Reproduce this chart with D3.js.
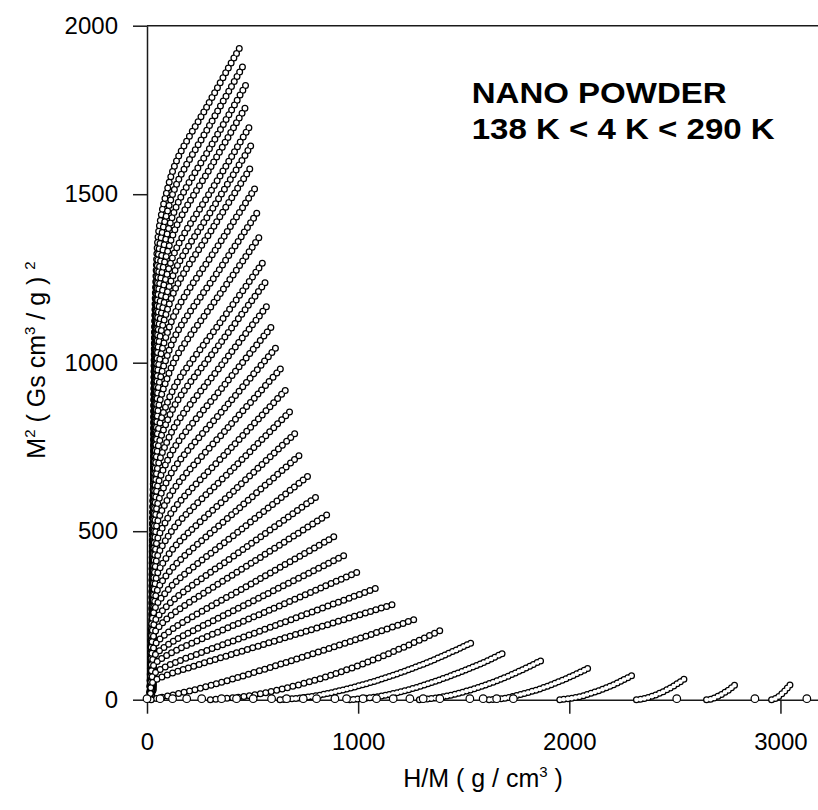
<!DOCTYPE html>
<html>
<head>
<meta charset="utf-8">
<script src="https://cdn.jsdelivr.net/npm/d3@7"></script>
<style>
  html, body { margin: 0; padding: 0; background: #fff; }
  svg { display: block; font-family: "Liberation Sans", Arial, Helvetica, sans-serif; }
</style>
</head>
<body>
<svg id="chart" width="818" height="810"></svg>
<script>
// Axis tick values
const xTicks = [0, 1000, 2000, 3000];
const yTicks = [0, 500, 1000, 1500, 2000];

// Arrott isotherms, one list per temperature, points as [H/M (g/cm3), M^2 ((Gs cm3/g)^2)]
// ordered by increasing applied field (coldest isotherm first)
const isotherms = [
  [[28,44],[31,443],[35,1066],[42,1250],[52,1372],[66,1432],[88,1494],[140,1599],[290,1767],[440,1936]],
  [[28,42],[31,423],[35,1018],[42,1194],[52,1311],[66,1368],[88,1428],[140,1530],[298,1706],[456,1882]],
  [[28,40],[31,404],[35,972],[42,1140],[52,1252],[66,1307],[88,1365],[140,1465],[304,1644],[467,1823]],
  [[28,39],[31,386],[35,931],[42,1092],[52,1200],[66,1253],[88,1309],[140,1406],[306,1585],[472,1764]],
  [[28,37],[31,368],[35,886],[42,1040],[52,1142],[66,1194],[88,1248],[140,1340],[312,1519],[483,1698]],
  [[28,35],[31,351],[35,846],[42,993],[52,1091],[66,1140],[88,1192],[140,1283],[316,1463],[491,1643]],
  [[28,33],[31,335],[35,808],[42,948],[52,1042],[66,1090],[88,1140],[140,1227],[318,1406],[496,1584]],
  [[28,31],[31,315],[35,759],[42,891],[52,980],[66,1025],[88,1073],[140,1156],[326,1337],[511,1517]],
  [[28,29],[31,295],[35,712],[42,836],[52,919],[66,961],[88,1007],[140,1087],[334,1268],[527,1450]],
  [[28,27],[31,276],[35,664],[42,780],[52,858],[66,898],[88,941],[140,1018],[342,1201],[543,1383]],
  [[22,25],[24,251],[28,605],[36,712],[48,785],[62,822],[85,864],[140,939],[347,1120],[554,1302]],
  [[22,23],[24,235],[28,567],[36,667],[48,736],[62,772],[85,811],[140,883],[351,1061],[562,1240]],
  [[22,22],[24,218],[28,525],[36,618],[48,682],[62,715],[85,752],[140,820],[360,999],[579,1177]],
  [[22,20],[24,200],[28,483],[36,569],[48,628],[62,659],[85,694],[140,758],[368,935],[595,1111]],
  [[22,18],[24,183],[28,442],[36,521],[48,575],[62,604],[85,637],[140,697],[377,872],[614,1047]],
  [[22,17],[24,166],[28,401],[36,473],[48,523],[62,549],[85,580],[140,636],[387,810],[634,983]],
  [[22,15],[24,150],[28,361],[36,426],[48,472],[62,496],[85,524],[140,576],[398,747],[655,918]],
  [[22,13],[24,134],[28,323],[36,381],[48,422],[62,444],[85,470],[140,519],[409,687],[678,856]],
  [[22,12],[24,117],[28,284],[36,335],[48,371],[62,391],[85,415],[140,460],[422,626],[704,792]],
  [[22,10],[24,102],[28,247],[36,291],[48,323],[62,341],[85,363],[140,404],[436,568],[732,731]],
  [[14,9],[16,87],[20,210],[28,249],[42,277],[58,294],[82,313],[140,352],[454,509],[767,666]],
  [[14,7],[16,74],[20,180],[28,213],[42,238],[58,252],[82,270],[140,304],[473,454],[806,604]],
  [[14,6],[16,64],[20,155],[28,183],[42,205],[58,217],[82,233],[140,263],[496,406],[851,548]],
  [[14,5],[16,52],[20,126],[28,149],[42,167],[58,178],[82,191],[140,218],[519,353],[898,488]],
  [[14,4],[16,42],[20,102],[28,121],[42,136],[58,145],[82,156],[140,179],[547,307],[953,434]],
  [[14,3],[16,34],[20,83],[28,98],[42,110],[58,118],[82,127],[140,147],[577,265],[1013,383]],
  [[14,2],[16,25],[20,61],[28,72],[42,82],[58,88],[82,96],[140,112],[615,222],[1090,332]],
  [[14,2],[16,18],[20,43],[28,52],[42,59],[58,64],[82,70],[140,83],[661,185],[1182,286]],
  [[20,0],[209,27],[398,60],[650,109],[902,160],[1091,200],[1280,241]],
  [[300,0],[464,10],[629,30],[848,68],[1067,117],[1231,160],[1395,207]],
  [[630,0],[766,8],[902,25],[1084,56],[1265,95],[1401,130],[1537,169]],
  [[960,0],[1070,7],[1179,20],[1325,46],[1471,79],[1581,107],[1690,139]],
  [[1290,0],[1376,6],[1462,17],[1577,38],[1692,65],[1778,89],[1864,115]],
  [[1620,0],[1690,4],[1761,14],[1855,31],[1948,53],[2019,72],[2089,93]],
  [[1955,0],[2008,4],[2061,11],[2131,25],[2201,42],[2254,58],[2307,75]],
  [[2318,0],[2352,3],[2386,9],[2431,20],[2476,34],[2510,47],[2544,61]],
  [[2650,0],[2672,2],[2694,7],[2724,17],[2753,28],[2775,39],[2797,50]],
  [[2958,0],[2971,2],[2984,6],[3002,15],[3019,25],[3032,34],[3045,44]]
];

// Near-zero-field readings that sit on the H/M axis (M^2 ~ 0)
const zeroFieldHM = [0, 62, 121, 188, 259, 353, 424, 503, 590, 661, 740, 803, 890, 945,
  1023, 1087, 1166, 1245, 1308, 1387, 1529, 1592, 1656, 1735, 2509, 2879, 3125];

const W = 818, H = 810;
const svg = d3.select("#chart");
svg.append("rect").attr("width", W).attr("height", H).attr("fill", "#fff");

const x = d3.scaleLinear().domain([0, 3200]).range([147, 147 + 3200 * 0.21115]);
const y = d3.scaleLinear().domain([0, 2000]).range([699.7, 25.7]);

const axisColor = "#1a1a1a";

// Axes
const gx = svg.append("g")
  .attr("transform", `translate(0,${y(0)})`)
  .call(d3.axisBottom(x).tickValues(xTicks).tickSize(14).tickSizeOuter(0)
    .tickPadding(19).tickFormat(d3.format("d")));
const gy = svg.append("g")
  .attr("transform", `translate(${x(0)},0)`)
  .call(d3.axisLeft(y).tickValues(yTicks).tickSize(14).tickSizeOuter(0)
    .tickPadding(15).tickFormat(d3.format("d")));

[gx, gy].forEach(g => {
  g.attr("font-family", null).attr("font-size", null);
  g.select(".domain").attr("stroke", axisColor).attr("stroke-width", 1.5);
  g.selectAll(".tick line").attr("stroke", axisColor).attr("stroke-width", 1.5);
  g.selectAll(".tick text").attr("fill", "#000").attr("font-size", 24);
});

// Top frame line
svg.append("line")
  .attr("x1", x(0)).attr("x2", x(3200))
  .attr("y1", y(2000)).attr("y2", y(2000))
  .attr("stroke", axisColor).attr("stroke-width", 1.5);

// Isotherms drawn as chains of open circles along each curve
const line = d3.line()
  .x(d => x(d[0]))
  .y(d => y(d[1]))
  .curve(d3.curveCatmullRom.alpha(0.5));

const gIso = svg.append("g").attr("fill", "none").attr("stroke-linecap", "round");
isotherms.forEach((pts, i) => {
  const d = line(pts);
  // paramagnetic isotherms bunch their readings more tightly
  const dash = i >= 30 ? "0 4" : "0 5.6";
  gIso.append("path").attr("d", d)
    .attr("stroke", "#000").attr("stroke-width", 7)
    .attr("stroke-dasharray", dash);
  gIso.append("path").attr("d", d)
    .attr("stroke", "#fff").attr("stroke-width", 4.5)
    .attr("stroke-dasharray", dash);
});

// Axis-level points
svg.append("g").selectAll("circle")
  .data(zeroFieldHM)
  .join("circle")
  .attr("cx", d => x(d))
  .attr("cy", y(0) - 1)
  .attr("r", 3.8)
  .attr("fill", "#fff")
  .attr("stroke", "#000")
  .attr("stroke-width", 1.2);

// Annotation
svg.append("text")
  .attr("x", 471.7).attr("y", 102.7)
  .attr("font-size", 30).attr("font-weight", "bold")
  .attr("textLength", 255).attr("lengthAdjust", "spacingAndGlyphs")
  .text("NANO POWDER");
svg.append("text")
  .attr("x", 471.7).attr("y", 139)
  .attr("font-size", 30).attr("font-weight", "bold")
  .attr("textLength", 303).attr("lengthAdjust", "spacingAndGlyphs")
  .text("138 K < 4 K < 290 K");

// X axis title
const xt = svg.append("text")
  .attr("x", 483).attr("y", 787)
  .attr("text-anchor", "middle")
  .attr("font-size", 25);
xt.append("tspan").text("H/M ( g / cm");
xt.append("tspan").attr("dy", -10).attr("font-size", 15).text("3");
xt.append("tspan").attr("dy", 10).text(" )");

// Y axis title
const yt = svg.append("text")
  .attr("transform", "translate(45,360) rotate(-90)")
  .attr("text-anchor", "middle")
  .attr("font-size", 25);
yt.append("tspan").text("M");
yt.append("tspan").attr("dy", -10).attr("font-size", 15).text("2");
yt.append("tspan").attr("dy", 10).text(" ( Gs cm");
yt.append("tspan").attr("dy", -10).attr("font-size", 15).text("3");
yt.append("tspan").attr("dy", 10).text(" / g ) ");
yt.append("tspan").attr("dy", -10).attr("font-size", 15).text("2");
</script>
</body>
</html>
